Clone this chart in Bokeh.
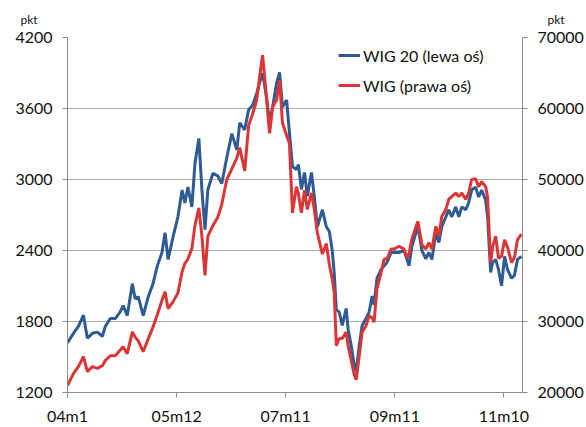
from bokeh.plotting import figure
from bokeh.layouts import column
from bokeh.models import (Range1d, LinearAxis, FixedTicker, Legend, LegendItem, Div)
from bokeh.embed import file_html
from bokeh.resources import INLINE

# trading-day index (0 = Jan 2004), ticks every 500 sessions
days = [0, 27, 50, 73, 91, 114, 137, 160, 173, 196, 219, 242, 255, 274, 297, 310, 324, 347, 370, 392,
        411, 433, 447, 461, 484, 506, 525, 538, 552, 570, 584, 602, 616, 630, 643, 666, 689, 707, 730, 753,
        776, 789, 812, 830, 849, 867, 880, 894, 912, 926, 940, 958, 972, 985, 1004, 1017, 1031, 1049, 1058, 1072,
        1086, 1099, 1118, 1131, 1145, 1168, 1186, 1200, 1213, 1222, 1232, 1245, 1259, 1277, 1286, 1300, 1314, 1323, 1337, 1350,
        1368, 1382, 1396, 1405, 1418, 1437, 1451, 1464, 1483, 1496, 1519, 1542, 1556, 1565, 1578, 1597, 1606, 1624, 1642, 1656,
        1670, 1688, 1702, 1715, 1734, 1747, 1761, 1779, 1793, 1807, 1825, 1838, 1852, 1870, 1884, 1898, 1916, 1925, 1939, 1948,
        1962, 1975, 1989, 2003, 2016, 2035, 2048, 2062, 2080]

wig20 = [1620, 1700, 1758, 1853, 1658, 1700, 1710, 1675, 1758, 1825, 1825, 1884, 1935, 1850, 2120, 1993, 2010, 1850, 2010, 2120,
         2266, 2383, 2551, 2324, 2517, 2685, 2911, 2802, 2936, 2769, 3135, 3347, 2911, 2576, 2911, 3052, 3030, 2966, 3186, 3388,
         3250, 3478, 3420, 3590, 3630, 3730, 3814, 3898, 3697, 3478, 3613, 3814, 3906, 3613, 3672, 3395, 3110, 3085, 3126, 2916,
         3060, 2858, 3060, 2858, 2601, 2744, 2601, 2560, 2400, 2215, 1900, 1880, 1766, 1910, 1733, 1598, 1430, 1380, 1598, 1766,
         1825, 1880, 2015, 1940, 2165, 2240, 2270, 2300, 2383, 2383, 2383, 2400, 2324, 2270, 2434, 2551, 2601, 2400, 2330, 2383,
         2324, 2551, 2467, 2601, 2685, 2744, 2685, 2769, 2685, 2769, 2744, 2802, 2911, 2936, 2852, 2911, 2827, 2685, 2215, 2300,
         2324, 2240, 2102, 2350, 2240, 2165, 2190, 2324, 2350]

wig = [20980, 22660, 23640, 25040, 22940, 23640, 23400, 23780, 24500, 25180, 25180, 26000, 26440, 25460, 28540, 27800, 27280, 25740, 27560, 29240,
       30900, 33000, 34200, 31800, 32800, 34000, 37000, 38200, 38800, 40300, 43500, 46000, 42000, 36500, 42000, 43500, 44700, 46500, 50000, 51500,
       53000, 54500, 51200, 57600, 59300, 61200, 64400, 67500, 61500, 56500, 60200, 61200, 64000, 58000, 56200, 55100, 45300, 49000, 48000, 45300,
       48500, 45800, 48100, 45800, 42500, 39500, 41000, 38000, 36000, 34100, 26600, 27600, 27600, 28500, 26600, 24500, 22500, 21800, 25200, 28500,
       29400, 30800, 30500, 29900, 34600, 36900, 38800, 38800, 40200, 40200, 40600, 40200, 39000, 39500, 41600, 43400, 44100, 40800, 40200, 41100,
       40200, 43400, 42000, 44800, 45800, 47200, 47600, 48100, 47600, 48100, 47200, 48100, 50000, 50100, 49000, 49700, 49000, 47500, 38300, 40500,
       42000, 38900, 39200, 41500, 40500, 38300, 39000, 41500, 42300]

x_ticks = [0, 500, 1000, 1500, 2000]
x_tick_labels = ["04m1", "05m12", "07m11", "09m11", "11m10"]
left_ticks = [1200, 1800, 2400, 3000, 3600, 4200]
right_ticks = [20000, 30000, 40000, 50000, 60000, 70000]
series_names = ["WIG 20 (lewa oś)", "WIG (prawa oś)"]
unit_label = "pkt"

FONT = "Lato"
BLUE = "#2E5B94"
RED = "#DC3535"
AXC = "#8C8C8C"

W = 586
TOP_H = 28           # strip holding the two "pkt" unit labels
H = 427 - TOP_H
BL, BR, BT, BB = 67, 62, 37 - TOP_H, 33

# --- unit-label strip (HTML text) ---------------------------------------------
span_css = ("position:absolute;top:13px;width:30px;height:14px;line-height:14px;"
            "text-align:center;font-family:Lato,sans-serif;font-size:12px;color:#111111;")
strip_html = (
    f'<div style="position:relative;width:{W}px;height:{TOP_H}px;margin:0;padding:0;">'
    f'<span style="{span_css}left:14px;">{unit_label}</span>'
    f'<span style="{span_css}left:541px;">{unit_label}</span>'
    '</div>'
)
top = Div(text=strip_html, width=W, height=TOP_H, margin=(0, 0, 0, 0))

# --- main chart ---------------------------------------------------------------
p = figure(width=W, height=H, output_backend="svg", toolbar_location=None,
           x_range=Range1d(0, 2085), y_range=Range1d(1200, 4200),
           min_border_left=BL, min_border_right=BR, min_border_top=BT, min_border_bottom=BB)
p.extra_y_ranges = {"wig": Range1d(20000, 70000)}
p.outline_line_color = None
p.background_fill_color = "white"
p.border_fill_color = "white"

p.xgrid.visible = False
p.ygrid.ticker = FixedTicker(ticks=left_ticks)
p.ygrid.grid_line_color = "#ADADAD"
p.ygrid.grid_line_width = 1

def style_axis(ax):
    ax.axis_line_color = AXC
    ax.major_tick_line_color = AXC
    ax.major_tick_out = 5
    ax.major_tick_in = 0
    ax.minor_tick_line_color = None
    ax.major_label_text_font = FONT
    ax.major_label_text_font_size = "16px"
    ax.major_label_text_color = "#111111"

xa = p.xaxis[0]
xa.ticker = FixedTicker(ticks=x_ticks)
xa.major_label_overrides = {t: l for t, l in zip(x_ticks, x_tick_labels)}
xa.major_label_standoff = 8
style_axis(xa)

ya = p.yaxis[0]
ya.ticker = FixedTicker(ticks=left_ticks)
ya.major_label_standoff = 10
style_axis(ya)

ra = LinearAxis(y_range_name="wig", ticker=FixedTicker(ticks=right_ticks))
ra.major_label_standoff = 10
style_axis(ra)
p.add_layout(ra, "right")

r1 = p.line(days, wig20, line_color=BLUE, line_width=3)
r2 = p.line(days, wig, line_color=RED, line_width=3, y_range_name="wig")

legend = Legend(items=[LegendItem(label=series_names[0], renderers=[r1]),
                       LegendItem(label=series_names[1], renderers=[r2])],
                location=(271, 297), orientation="vertical",
                background_fill_alpha=0, border_line_color=None,
                label_text_font=FONT, label_text_font_size="16px", label_text_color="#111111",
                glyph_width=22, glyph_height=20, label_height=20, label_standoff=3,
                spacing=10, padding=0, margin=0)
p.add_layout(legend)

layout = column(top, p, spacing=0)
open("out.html", "w").write(file_html(layout, INLINE))
